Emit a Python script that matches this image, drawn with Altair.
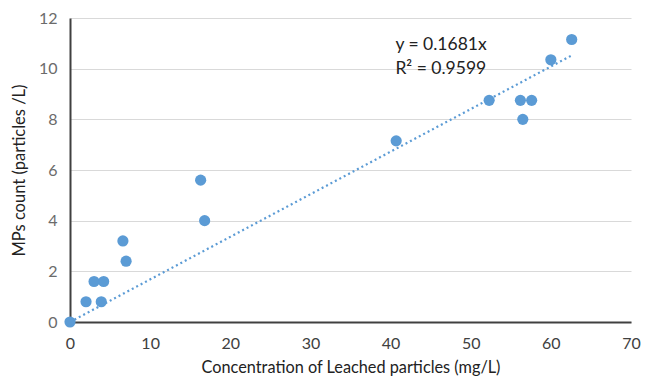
import altair as alt
import pandas as pd

conc = [0, 2.0, 3.0, 4.2, 3.9, 6.6, 7.0, 16.3, 16.8, 40.7, 52.3, 56.2, 57.6, 56.5, 60.0, 62.6]
mps = [0, 0.8, 1.6, 1.6, 0.8, 3.2, 2.4, 5.6, 4.0, 7.15, 8.75, 8.75, 8.75, 8.0, 10.35, 11.15]
slope = 0.1681
eq_lines = ["y = 0.1681x", "R² = 0.9599"]

pts = pd.DataFrame({"x": conc, "y": mps})
trend = pd.DataFrame({"x": [0, max(conc)]})
ann = pd.DataFrame({"x": [40.6, 40.6], "y": [10.93, 9.97], "t": eq_lines})

FONT = "Lato"
xs = alt.Scale(domain=[0, 70], nice=False)
ys = alt.Scale(domain=[0, 12], nice=False)

xenc = alt.X("x:Q", scale=xs, axis=alt.Axis(
    title="Concentration of Leached particles (mg/L)", values=list(range(0, 71, 10)),
    grid=False, ticks=False, domainColor="#404040", domainWidth=2, labelFlush=False,
    labelColor="#404040", labelFontSize=16, labelPadding=13, labelFont=FONT,
    titleFont=FONT, titleFontSize=16.3, titleFontWeight="normal", titleColor="#222",
    titlePadding=8))
yenc = alt.Y("y:Q", scale=ys, axis=alt.Axis(
    title="MPs count (particles /L)", values=list(range(0, 13, 2)),
    grid=True, gridColor="#D9D9D9", gridWidth=1.2, ticks=False, labelFlush=False,
    domainColor="#404040", domainWidth=2,
    labelColor="#6b6b6b", labelFontSize=16, labelPadding=13, labelFont=FONT,
    titleFont=FONT, titleFontSize=16.5, titleFontWeight="normal", titleColor="#222",
    titlePadding=11))

line = alt.Chart(trend).transform_calculate(y=f"{slope}*datum.x").mark_line(
    color="#5B9BD5", strokeDash=[2, 3], strokeWidth=2.2
).encode(x=xenc, y=yenc)

points = alt.Chart(pts).mark_circle(size=125, color="#5B9BD5", opacity=1).encode(x=xenc, y=yenc)

text = alt.Chart(ann).mark_text(align="left", baseline="middle", fontSize=17.5, font=FONT,
                                color="#222").encode(x="x:Q", y="y:Q", text="t:N")

chart = alt.layer(line, points, text).properties(
    width=561, height=304,
    autosize=alt.AutoSizeParams(type="none"),
    padding={"left": 62, "top": 10, "right": 13, "bottom": 55},
).configure_view(stroke=None)

chart.save("out.html", embed_options={"renderer": "svg", "actions": False})
